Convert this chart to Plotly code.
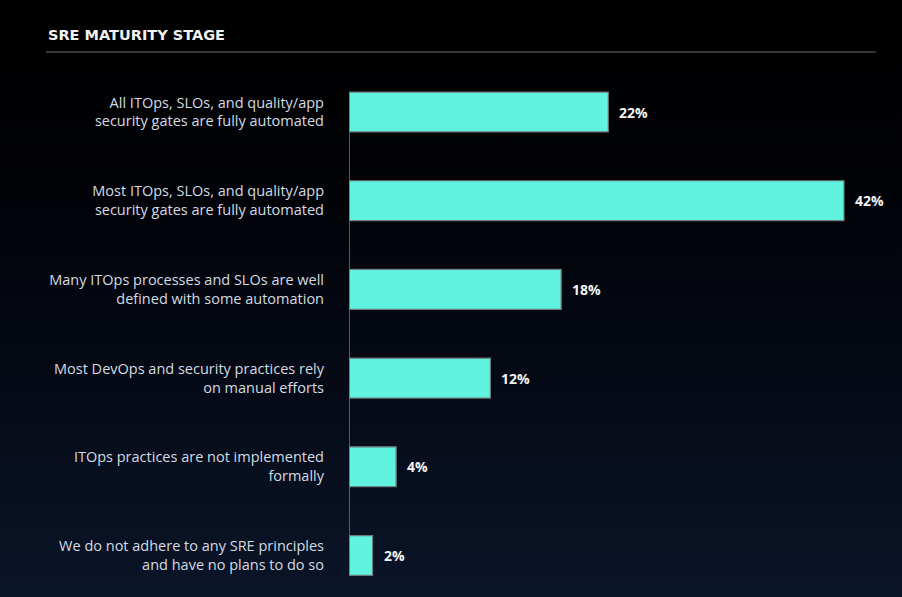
import base64
import plotly.graph_objects as go

categories = [
    "All ITOps, SLOs, and quality/app<br>security gates are fully automated",
    "Most ITOps, SLOs, and quality/app<br>security gates are fully automated",
    "Many ITOps processes and SLOs are well<br>defined with some automation",
    "Most DevOps and security practices rely<br>on manual efforts",
    "ITOps practices are not implemented<br>formally",
    "We do not adhere to any SRE principles<br>and have no plans to do so",
]
values = [22, 42, 18, 12, 4, 2]
value_labels = ["22%", "42%", "18%", "12%", "4%", "2%"]

W, H = 902, 597
L, R, T, B = 349, 876, 70, 590
FONT = "Open Sans"

svg = f'''<svg xmlns="http://www.w3.org/2000/svg" width="{W}" height="{H}">
<defs><linearGradient id="g" x1="0" y1="0" x2="0" y2="1">
<stop offset="0" stop-color="#000000"/>
<stop offset="0.3" stop-color="#010206"/>
<stop offset="0.65" stop-color="#050a16"/>
<stop offset="1" stop-color="#0b1528"/>
</linearGradient></defs>
<rect width="{W}" height="{H}" fill="url(#g)"/>
</svg>'''
bg_src = "data:image/svg+xml;base64," + base64.b64encode(svg.encode()).decode()

fig = go.Figure()
fig.add_trace(go.Bar(
    x=values, y=list(range(len(categories))), orientation="h",
    marker=dict(color="#5ff3e0", line=dict(color="#6e7a7c", width=1.2)),
    width=0.45, hoverinfo="skip",
))

pw = R - L
ph = B - T

ann = []
for i, (v, t) in enumerate(zip(values, value_labels)):
    ann.append(dict(x=v, y=i, xref="x", yref="y", text=f"<b>{t}</b>",
                    showarrow=False, xanchor="left", yanchor="middle", xshift=9,
                    font=dict(family=FONT, size=14, color="#f2f4f6")))
ann.append(dict(x=(46 - L) / pw, y=1 + (T - 35) / ph, xref="paper", yref="paper",
                text="<b>SRE MATURITY STAGE</b>",
                showarrow=False, xanchor="left", yanchor="middle",
                font=dict(family="DejaVu Sans", size=14.5, color="#f2f2f2")))

px_per = 495 / 42
xmax = (R - L) / px_per
ppu = 88.7
y_top = -(112 - T) / ppu
y_bot = y_top + ph / ppu

fig.update_layout(
    width=W, height=H,
    margin=dict(l=L, r=W - R, t=T, b=H - B, pad=0),
    paper_bgcolor="#000000", plot_bgcolor="rgba(0,0,0,0)",
    showlegend=False,
    annotations=ann,
    images=[dict(source=bg_src, xref="paper", yref="paper",
                 x=-L / pw, y=1 + T / ph, sizex=W / pw, sizey=H / ph,
                 xanchor="left", yanchor="top", sizing="stretch", layer="below")],
    shapes=[
        dict(type="line", xref="paper", yref="paper",
             x0=(46 - L) / pw, x1=1, y0=1 + (T - 52) / ph, y1=1 + (T - 52) / ph,
             line=dict(color="#4a4a4a", width=1.5)),
        dict(type="line", xref="x", yref="y", x0=0, x1=0, y0=-0.225, y1=len(values) - 1 + 0.225,
             line=dict(color="#6e7a7c", width=1.5), layer="above"),
    ],
    xaxis=dict(range=[0, xmax], visible=False, fixedrange=True),
    yaxis=dict(range=[y_bot, y_top], tickmode="array",
               tickvals=list(range(len(categories))), ticktext=categories,
               showgrid=False, zeroline=False, showline=False, ticks="",
               ticklabelstandoff=24,
               tickfont=dict(family=FONT, size=14.5, color="#d4dbe3")),
)

fig.write_html("out.html", config={"displayModeBar": False},
               post_script="document.body.style.margin='0';document.body.style.background='#000';")
